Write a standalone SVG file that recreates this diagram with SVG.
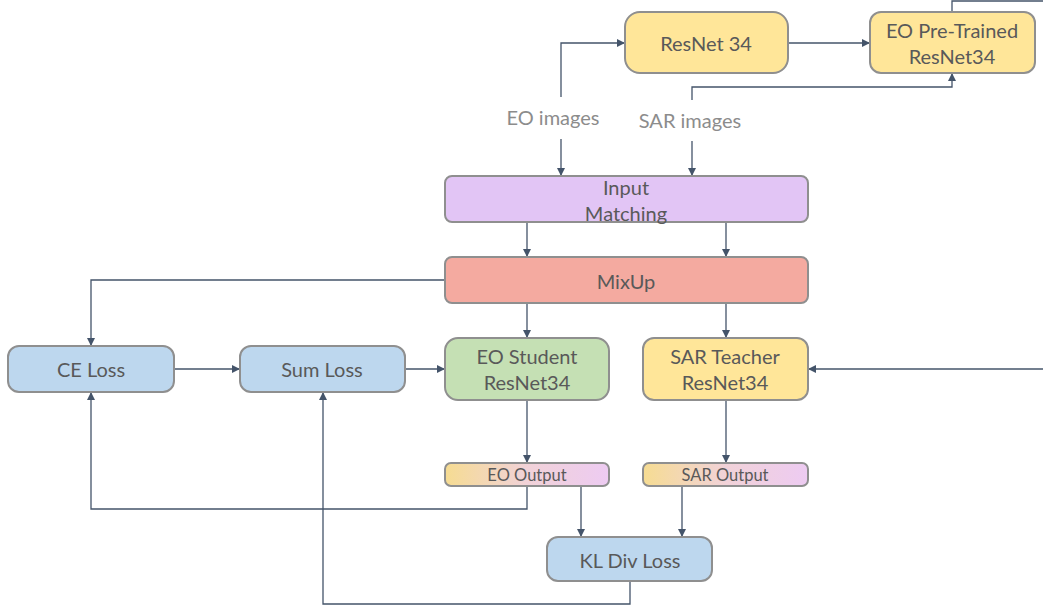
<svg xmlns="http://www.w3.org/2000/svg" width="1043" height="606" viewBox="0 0 1043 606">
<defs>
<marker id="arr" viewBox="0 0 10 10" refX="10" refY="5" markerWidth="8" markerHeight="8" markerUnits="userSpaceOnUse" orient="auto">
<path d="M0,0 L10,5 L0,10 z" fill="#44546A"/>
</marker>
<linearGradient id="outg" x1="0" y1="0" x2="1" y2="0">
<stop offset="0" stop-color="#F6DC92"/>
<stop offset="0.5" stop-color="#F1D2D8"/>
<stop offset="1" stop-color="#EDCBF2"/>
</linearGradient>
<style>
.n{stroke:#8F8F8F;stroke-width:2}
.t{font-family:Lato,"Open Sans","Liberation Sans",sans-serif;font-size:20px;fill:#595959;text-anchor:middle;dominant-baseline:central}
.s{font-size:16.5px}
.lbl{font-family:Lato,"Open Sans","Liberation Sans",sans-serif;font-size:20px;fill:#8C8C8C;text-anchor:middle;dominant-baseline:central}
.c{fill:none;stroke:#44546A;stroke-width:1.3}
.y{fill:#FFE699}
.b{fill:#BDD7EE}
</style>
</defs>
<g id="connectors">
<path class="c" d="M561,97 V43 H625" marker-end="url(#arr)"/>
<path class="c" d="M788,43 H870" marker-end="url(#arr)"/>
<path class="c" d="M692,100 V87 H952 V73" marker-end="url(#arr)"/>
<path class="c" d="M952,12 V1 H1043"/>
<path class="c" d="M1043,369 H808" marker-end="url(#arr)"/>
<path class="c" d="M561,139 V176" marker-end="url(#arr)"/>
<path class="c" d="M692,141 V176" marker-end="url(#arr)"/>
<path class="c" d="M527,222 V257" marker-end="url(#arr)"/>
<path class="c" d="M726,222 V257" marker-end="url(#arr)"/>
<path class="c" d="M445,280 H91 V346" marker-end="url(#arr)"/>
<path class="c" d="M527,303 V338" marker-end="url(#arr)"/>
<path class="c" d="M726,303 V338" marker-end="url(#arr)"/>
<path class="c" d="M174,369 H240" marker-end="url(#arr)"/>
<path class="c" d="M405,369 H445" marker-end="url(#arr)"/>
<path class="c" d="M527,400 V463" marker-end="url(#arr)"/>
<path class="c" d="M726,400 V463" marker-end="url(#arr)"/>
<path class="c" d="M527,486 V509 H91 V392" marker-end="url(#arr)"/>
<path class="c" d="M581,486 V537" marker-end="url(#arr)"/>
<path class="c" d="M682,486 V537" marker-end="url(#arr)"/>
<path class="c" d="M630,581 V604 H323 V392" marker-end="url(#arr)"/>
</g>
<g id="eo-images"><text class="lbl" x="553" y="117">EO images</text></g>
<g id="sar-images"><text class="lbl" x="690" y="120">SAR images</text></g>
<g id="resnet34"><rect class="n y" x="625" y="12" width="163" height="61" rx="15"/><text class="t" x="706" y="43">ResNet 34</text></g>
<g id="eo-pretrained"><rect class="n y" x="870" y="12" width="165" height="61" rx="11"/><text class="t" x="952" y="30">EO Pre-Trained</text><text class="t" x="952" y="56">ResNet34</text></g>
<g id="input-matching"><rect x="445" y="176" width="363" height="46" rx="7" class="n" fill="#E2C5F5"/><text class="t" x="626" y="187">Input</text><text class="t" x="626" y="213">Matching</text></g>
<g id="mixup"><rect x="445" y="257" width="363" height="46" rx="7" class="n" fill="#F4AAA0"/><text class="t" x="626" y="281">MixUp</text></g>
<g id="ce-loss"><rect class="n b" x="8" y="346" width="166" height="46" rx="11"/><text class="t" x="91" y="369">CE Loss</text></g>
<g id="sum-loss"><rect class="n b" x="240" y="346" width="165" height="46" rx="11"/><text class="t" x="322" y="369">Sum Loss</text></g>
<g id="eo-student"><rect class="n" fill="#C5E0B4" x="445" y="338" width="164" height="62" rx="13"/><text class="t" x="527" y="356">EO Student</text><text class="t" x="527" y="382">ResNet34</text></g>
<g id="sar-teacher"><rect class="n y" x="643" y="338" width="165" height="62" rx="11"/><text class="t" x="725" y="356">SAR Teacher</text><text class="t" x="725" y="382">ResNet34</text></g>
<g id="eo-output"><rect class="n" fill="url(#outg)" x="445" y="463" width="164" height="23" rx="6"/><text class="t s" x="527" y="474.5">EO Output</text></g>
<g id="sar-output"><rect class="n" fill="url(#outg)" x="643" y="463" width="165" height="23" rx="6"/><text class="t s" x="725" y="474.5">SAR Output</text></g>
<g id="kl-div-loss"><rect class="n b" x="547" y="537" width="165" height="44" rx="11"/><text class="t" x="630" y="560">KL Div Loss</text></g>
</svg>
